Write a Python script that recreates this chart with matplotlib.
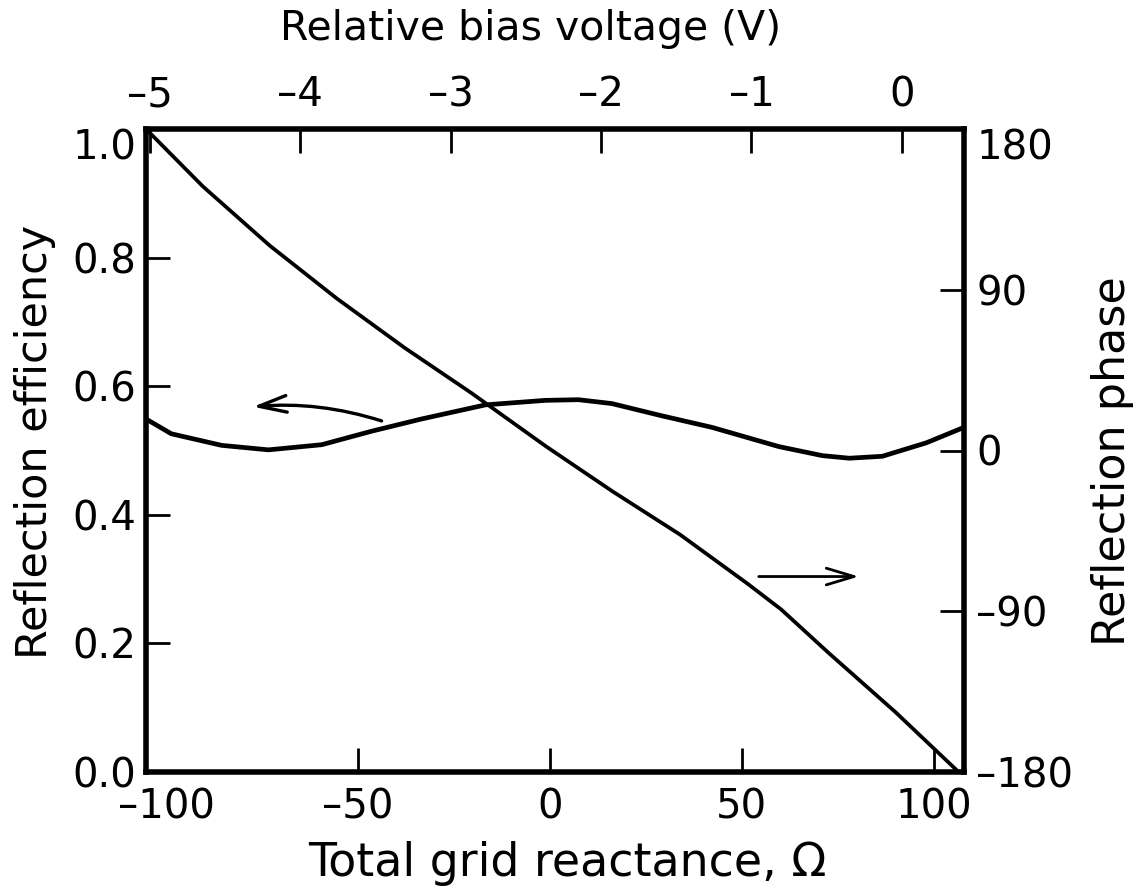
import matplotlib
matplotlib.use("Agg")
import matplotlib.pyplot as plt

W, H = 1141, 893

# reflection efficiency vs total grid reactance (ohm)
eff_x = [-105.3, -98.7, -85.6, -73.4, -59.5, -46.5, -33.5, -16.8, -1.2, 7.4,
         16.1, 29.1, 42.2, 59.7, 71.0, 78.0, 86.6, 98.1, 107.9]
eff_y = [0.549, 0.526, 0.508, 0.501, 0.509, 0.530, 0.549, 0.571, 0.578, 0.579,
         0.573, 0.554, 0.536, 0.506, 0.492, 0.488, 0.491, 0.512, 0.536]

# reflection phase (deg) vs total grid reactance
phase_x = [-105.3, -90.5, -73.1, -55.5, -37.9, -20.5, -1.1, 16.3, 33.9, 51.5,
           60.2, 72.6, 90.0, 106.5]
phase_y = [180, 147.9, 114.8, 85.0, 57.5, 32.2, 2.4, -22.9, -47.1, -74.6,
           -88.9, -113.3, -146.4, -180]

x_ticks = [-100, -50, 0, 50, 100]
x_labels = ["\u2013100", "\u201350", "0", "50", "100"]
eff_ticks = [0.0, 0.2, 0.4, 0.6, 0.8, 1.0]
eff_labels = ["0.0", "0.2", "0.4", "0.6", "0.8", "1.0"]
phase_ticks = [-180, -90, 0, 90, 180]
phase_labels = ["\u2013180", "\u201390", "0", "90", "180"]
volt_ticks = [-5, -4, -3, -2, -1, 0]
volt_labels = ["\u20135", "\u20134", "\u20133", "\u20132", "\u20131", "0"]

# arrows pointing to each curve's axis
left_arrow_tail = (-43.9, 0.546)
left_arrow_tip = (-77.4, 0.568)
right_arrow_tail = (54.4, 0.304)
right_arrow_tip = (80.5, 0.304)

TICK_FS = 29
SPINE_LW = 4.0

fig = plt.figure(figsize=(W / 100, H / 100), dpi=100)
ax = fig.add_axes([146 / W, 1 - 772 / H, 818 / W, 643 / H])

ax.plot(eff_x, eff_y, color="black", lw=3.4, solid_capstyle="round")
ax.set_xlim(-105.3, 107.9)
ax.set_ylim(0, 1)

ax2 = ax.twinx()
ax2.plot(phase_x, phase_y, color="black", lw=2.7, solid_capstyle="round")
ax2.set_ylim(-180, 180)

ax3 = ax.twiny()
ax3.set_xlim(-5.025, 0.413)

for a in (ax2, ax3):
    for s in a.spines.values():
        s.set_visible(False)
for s in ax.spines.values():
    s.set_linewidth(SPINE_LW)
    s.set_capstyle("projecting")

tick_kw = dict(direction="in", length=17, width=2.0, labelsize=TICK_FS)

ax.set_xticks(x_ticks)
ax.set_xticklabels(x_labels)
ax.set_yticks(eff_ticks)
ax.set_yticklabels(eff_labels)
ax.tick_params(axis="x", pad=11, top=False, **tick_kw)
ax.tick_params(axis="y", pad=7, right=False, **tick_kw)
ax.xaxis.get_major_ticks()[0].tick1line.set_visible(False)
ax.get_yticklabels()[-1].set_va("top")

ax2.set_yticks(phase_ticks)
ax2.set_yticklabels(phase_labels)
ax2.tick_params(axis="y", pad=9, **tick_kw)
ax2.get_yticklabels()[-1].set_va("top")

ax3.set_xticks(volt_ticks)
ax3.set_xticklabels(volt_labels)
ax3.tick_params(axis="x", pad=10, **tick_kw)

ax.annotate("", xy=left_arrow_tip, xytext=left_arrow_tail,
            arrowprops=dict(arrowstyle="->,head_length=1.0,head_width=0.3",
                            connectionstyle="arc3,rad=0.1",
                            lw=2.4, color="black", mutation_scale=20,
                            shrinkA=0, shrinkB=0))
ax.annotate("", xy=right_arrow_tip, xytext=right_arrow_tail,
            arrowprops=dict(arrowstyle="->,head_length=1.0,head_width=0.3",
                            lw=2.0, color="black", mutation_scale=20,
                            shrinkA=0, shrinkB=0))

fig.text(531 / W, 1 - 40 / H, "Relative bias voltage (V)",
         ha="center", va="baseline", fontsize=29.5)
fig.text(567 / W, 1 - 876 / H, "Total grid reactance, \u03a9",
         ha="center", va="baseline", fontsize=33)
fig.text(35 / W, 1 - 442 / H, "Reflection efficiency",
         rotation=90, ha="center", va="center", fontsize=31)
fig.text(1112 / W, 1 - 461 / H, "Reflection phase",
         rotation=90, ha="center", va="center", fontsize=32)

fig.savefig("out.png", dpi=100)
